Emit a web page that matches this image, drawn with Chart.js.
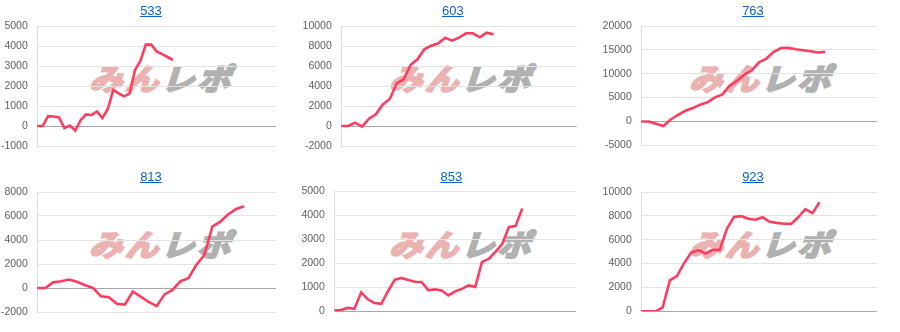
<!DOCTYPE html>
<html>
<head>
<meta charset="utf-8">
<script src="https://cdn.jsdelivr.net/npm/chart.js@4/dist/chart.umd.min.js"></script>
<style>
  html, body { margin: 0; padding: 0; background: #fff; }
  body { width: 900px; height: 332px; position: relative; overflow: hidden; font-family: Arial, "Liberation Sans", sans-serif; }
  .panel { position: absolute; width: 300px; height: 166px; }
  .panel canvas { position: absolute; left: 0; top: 0; z-index: 2; }
  .title { position: absolute; top: 3px; width: 60px; margin-left: -30px; text-align: center; font-size: 13px; line-height: 15px; color: #0b62c8; text-decoration: underline; z-index: 3; }
  .wm { position: absolute; left: 93px; top: 60px; z-index: 1; white-space: nowrap; font-family: "Noto Sans CJK JP", sans-serif; font-weight: 700; font-size: 33px; line-height: 34px; letter-spacing: 3px; transform-origin: left center; transform: skewX(-18deg) scaleY(0.9); }
  .wm .a { color: #ebb2b2; -webkit-text-stroke: 2.6px #ebb2b2; }
  .wm .b { color: #b1b1b1; -webkit-text-stroke: 2.6px #b1b1b1; }
</style>
</head>
<body>
<script>
// ---- data ----
const titles = ["533", "603", "763", "813", "853", "923"];
const labelCounts = [45, 35, 33, 31, 37, 34];
const s533 = [0, 0, 490, 475, 430, -100, 20, -230, 300, 580, 550, 730, 400, 850, 1800, 1630, 1480, 1620, 2790, 3250, 4070, 4070, 3730, 3590, 3450, 3300];
const s603 = [0, 0, 330, -70, 730, 1170, 2150, 2700, 4270, 4670, 6100, 6670, 7670, 8030, 8270, 8830, 8530, 8830, 9270, 9270, 8870, 9330, 9170];
const s763 = [0, 0, -490, -950, 420, 1400, 2240, 2800, 3510, 4000, 5050, 5610, 7500, 8490, 9820, 10660, 12400, 13180, 14580, 15380, 15420, 15140, 14930, 14720, 14440, 14570];
const s813 = [0, 0, 470, 560, 710, 515, 235, 15, -695, -765, -1320, -1380, -290, -725, -1165, -1515, -530, -155, 570, 810, 1935, 2745, 5120, 5525, 6150, 6585, 6810];
const s853 = [30, 55, 140, 100, 790, 500, 345, 310, 835, 1310, 1390, 1300, 1230, 1220, 880, 915, 870, 660, 830, 935, 1080, 1015, 2060, 2180, 2480, 2800, 3505, 3560, 4280];
const s923 = [0, 0, 0, 320, 2590, 2950, 4040, 4930, 5120, 4850, 5150, 5150, 6920, 7910, 7980, 7760, 7680, 7880, 7500, 7410, 7340, 7330, 7880, 8560, 8230, 9140];
const seriesList = [s533, s603, s763, s813, s853, s923];
const yMin = [-1000, -2000, -5000, -2000, 0, 0];
const yMax = [5000, 10000, 20000, 8000, 5000, 10000];
const yStep = [1000, 2000, 5000, 2000, 1000, 2000];

// ---- layout (styles only) ----
const panelPos = [[0, 0], [300, 0], [600, 0], [0, 166], [300, 166], [600, 166]];
const titleCenter = [151, 152.8, 153, 151, 151.3, 153];
const axisWidth = [37.3, 41.3, 41.3, 37.3, 34.3, 41.3];
const padTop = [26, 26, 26, 26, 25.3, 26];
const padBottom = [20, 20, 20.7, 20, 20.7, 20.7];
const padRight = [24, 23.3, 23.3, 24, 24, 23.3];

for (let i = 0; i < 6; i++) {
  const panel = document.createElement('div');
  panel.className = 'panel';
  panel.style.left = panelPos[i][0] + 'px';
  panel.style.top = panelPos[i][1] + 'px';

  const wm = document.createElement('div');
  wm.className = 'wm';
  wm.innerHTML = '<span class="a">みん</span><span class="b">レポ</span>';
  panel.appendChild(wm);

  const t = document.createElement('a');
  t.className = 'title';
  t.href = '#';
  t.textContent = titles[i];
  t.style.left = titleCenter[i] + 'px';
  panel.appendChild(t);

  const cv = document.createElement('canvas');
  cv.width = 300; cv.height = 166;
  cv.style.width = '300px'; cv.style.height = '166px';
  panel.appendChild(cv);
  document.body.appendChild(panel);

  const labels = [];
  for (let k = 1; k <= labelCounts[i]; k++) labels.push(String(k));

  new Chart(cv, {
    type: 'line',
    data: {
      labels: labels,
      datasets: [{
        data: seriesList[i],
        borderColor: '#ff3c5f',
        borderWidth: 2.6,
        pointRadius: 0,
        tension: 0,
        fill: false
      }]
    },
    options: {
      responsive: false,
      animation: false,
      devicePixelRatio: 1,
      layout: { padding: { top: padTop[i], bottom: padBottom[i], right: padRight[i], left: 0 } },
      plugins: { legend: { display: false }, tooltip: { enabled: false }, title: { display: false } },
      scales: {
        x: { display: false },
        y: {
          min: yMin[i], max: yMax[i],
          afterFit: (scale) => { scale.width = axisWidth[i]; },
          ticks: {
            stepSize: yStep[i],
            padding: 9.5,
            color: '#5f5f5f',
            font: { family: 'Arial, "Liberation Sans", sans-serif', size: 10.5 },
            callback: (v) => String(v)
          },
          grid: {
            drawTicks: false,
            color: (ctx) => (ctx.tick && ctx.tick.value === 0) ? '#a8a8a8' : '#e3e3e3',
            lineWidth: 1
          },
          border: { color: '#dcdcdc', width: 1 }
        }
      }
    }
  });
}
</script>
</body>
</html>
